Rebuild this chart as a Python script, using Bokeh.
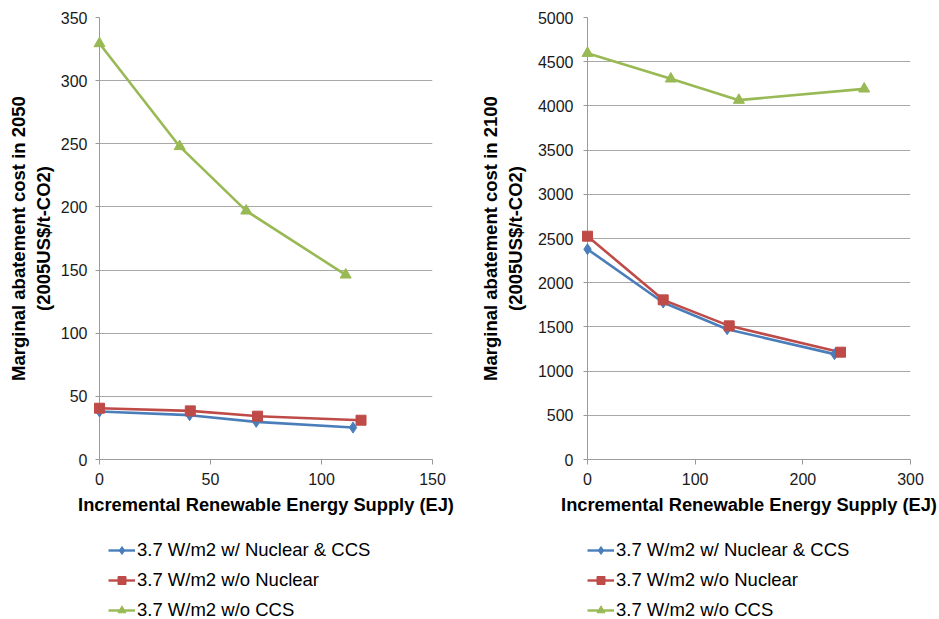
from bokeh.plotting import figure
from bokeh.layouts import row, column
from bokeh.models import Range1d, FixedTicker, Legend, LegendItem
from bokeh.embed import file_html
from bokeh.resources import INLINE

series_names = ["3.7 W/m2 w/ Nuclear & CCS", "3.7 W/m2 w/o Nuclear", "3.7 W/m2 w/o CCS"]
colors = ["#4a7ebb", "#be4b48", "#98b954"]
markers = ["diamond", "square", "triangle"]
marker_sizes = [11, 10, 11]

# 2050 panel
x2050_nuc_ccs = [0, 40.6, 70.6, 114.2]
y2050_nuc_ccs = [38.0, 35.1, 29.8, 25.3]
x2050_no_nuc = [0, 40.9, 71.2, 117.8]
y2050_no_nuc = [40.6, 38.5, 34.3, 31.1]
x2050_no_ccs = [0, 36.1, 66.1, 110.9]
y2050_no_ccs = [329.4, 247.9, 196.9, 146.2]
xticks_2050 = [0, 50, 100, 150]
yticks_2050 = [0, 50, 100, 150, 200, 250, 300, 350]

# 2100 panel
x2100_nuc_ccs = [0, 70.3, 129.7, 229.4]
y2100_nuc_ccs = [2379, 1776, 1474, 1192]
x2100_no_nuc = [0, 70.3, 131.6, 235.0]
y2100_no_nuc = [2526, 1806, 1512, 1214]
x2100_no_ccs = [0, 77.4, 140.6, 257.0]
y2100_no_ccs = [4596, 4306, 4065, 4193]
xticks_2100 = [0, 100, 200, 300]
yticks_2100 = [0, 500, 1000, 1500, 2000, 2500, 3000, 3500, 4000, 4500, 5000]

FONT = "Liberation Sans"
AXIS_COLOR = "#9a9a9a"
GRID_COLOR = "#a8a8a8"
CHART_H = 530
LEGEND_H = 89


def make_chart(width, bl, br, xs, ys, xticks, yticks, ylabel, ystandoff, ylab_standoff):
    p = figure(width=width, height=CHART_H, output_backend="svg", toolbar_location=None,
               x_range=Range1d(xticks[0], xticks[-1]), y_range=Range1d(yticks[0], yticks[-1]),
               min_border_left=bl, min_border_right=br, min_border_top=17,
               min_border_bottom=CHART_H - 459)
    p.outline_line_color = None
    p.xgrid.grid_line_color = None
    p.ygrid.grid_line_color = GRID_COLOR
    p.ygrid.grid_line_width = 1
    p.xaxis.ticker = FixedTicker(ticks=xticks)
    p.yaxis.ticker = FixedTicker(ticks=yticks)
    for ax in (p.xaxis[0], p.yaxis[0]):
        ax.axis_line_color = AXIS_COLOR
        ax.major_tick_line_color = AXIS_COLOR
        ax.minor_tick_line_color = None
        ax.major_tick_in = 0
        ax.major_label_text_font = FONT
        ax.major_label_text_font_size = "16px"
        ax.major_label_text_color = "#1a1a1a"
        ax.axis_label_text_font = FONT
        ax.axis_label_text_font_style = "bold"
        ax.axis_label_text_color = "#000000"
    p.yaxis.axis_label_text_font_size = "18.5px"
    p.xaxis.axis_label_text_font_size = "18.3px"
    p.xaxis.major_tick_out = 5
    p.yaxis.major_tick_out = 4
    p.xaxis.major_label_standoff = 8
    p.yaxis.major_label_standoff = ystandoff
    p.xaxis.axis_label = "Incremental Renewable Energy Supply (EJ)"
    p.xaxis.axis_label_standoff = 6
    p.yaxis.axis_label = ylabel
    p.yaxis.axis_label_standoff = ylab_standoff

    for (x, y), c, m, s in zip(zip(xs, ys), colors, markers, marker_sizes):
        p.line(x, y, line_color=c, line_width=2.6)
        p.scatter(x, y, marker=m, size=s, fill_color=c, line_color=c, level="overlay")
    return p


def make_legend(width, legend_x, xs, ys):
    q = figure(width=width, height=LEGEND_H, output_backend="svg", toolbar_location=None,
               x_range=Range1d(0, 1), y_range=Range1d(0, 1),
               x_axis_type=None, y_axis_type=None,
               min_border_left=0, min_border_right=0, min_border_top=0, min_border_bottom=0)
    q.outline_line_color = None
    q.grid.visible = False
    items = []
    for (x, y), name, c, m, s in zip(zip(xs, ys), series_names, colors, markers, marker_sizes):
        l = q.line(x, y, line_color=c, line_width=2.4, visible=False)
        sc = q.scatter(x, y, marker=m, size=s - 1, fill_color=c, line_color=c, visible=False)
        items.append(LegendItem(label=name, renderers=[l, sc]))
    leg = Legend(items=items, location=(legend_x, -2), orientation="vertical",
                 margin=0, padding=0, spacing=8, glyph_width=27, glyph_height=20,
                 label_height=20, label_standoff=2,
                 label_text_font=FONT, label_text_font_size="18.5px", label_text_color="#000000",
                 border_line_color=None, background_fill_alpha=0,
                 inactive_fill_alpha=0)
    q.add_layout(leg, "center")
    return q


xs2050 = [x2050_nuc_ccs, x2050_no_nuc, x2050_no_ccs]
ys2050 = [y2050_nuc_ccs, y2050_no_nuc, y2050_no_ccs]
xs2100 = [x2100_nuc_ccs, x2100_no_nuc, x2100_no_ccs]
ys2100 = [y2100_nuc_ccs, y2100_no_nuc, y2100_no_ccs]

p1 = make_chart(470, 99, 38, xs2050, ys2050, xticks_2050, yticks_2050,
                "Marginal abatement cost in 2050\n(2005US$/t-CO2)", 8, 4)
p2 = make_chart(469, 117, 29, xs2100, ys2100, xticks_2100, yticks_2100,
                "Marginal abatement cost in 2100\n(2005US$/t-CO2)", 10, 9)
# legend frames are aligned with the chart frames by the column layout
l1 = make_legend(470, 9, xs2050, ys2050)
l2 = make_legend(469, 0, xs2100, ys2100)

layout = row(column(p1, l1), column(p2, l2))
open("out.html", "w").write(file_html(layout, INLINE))
